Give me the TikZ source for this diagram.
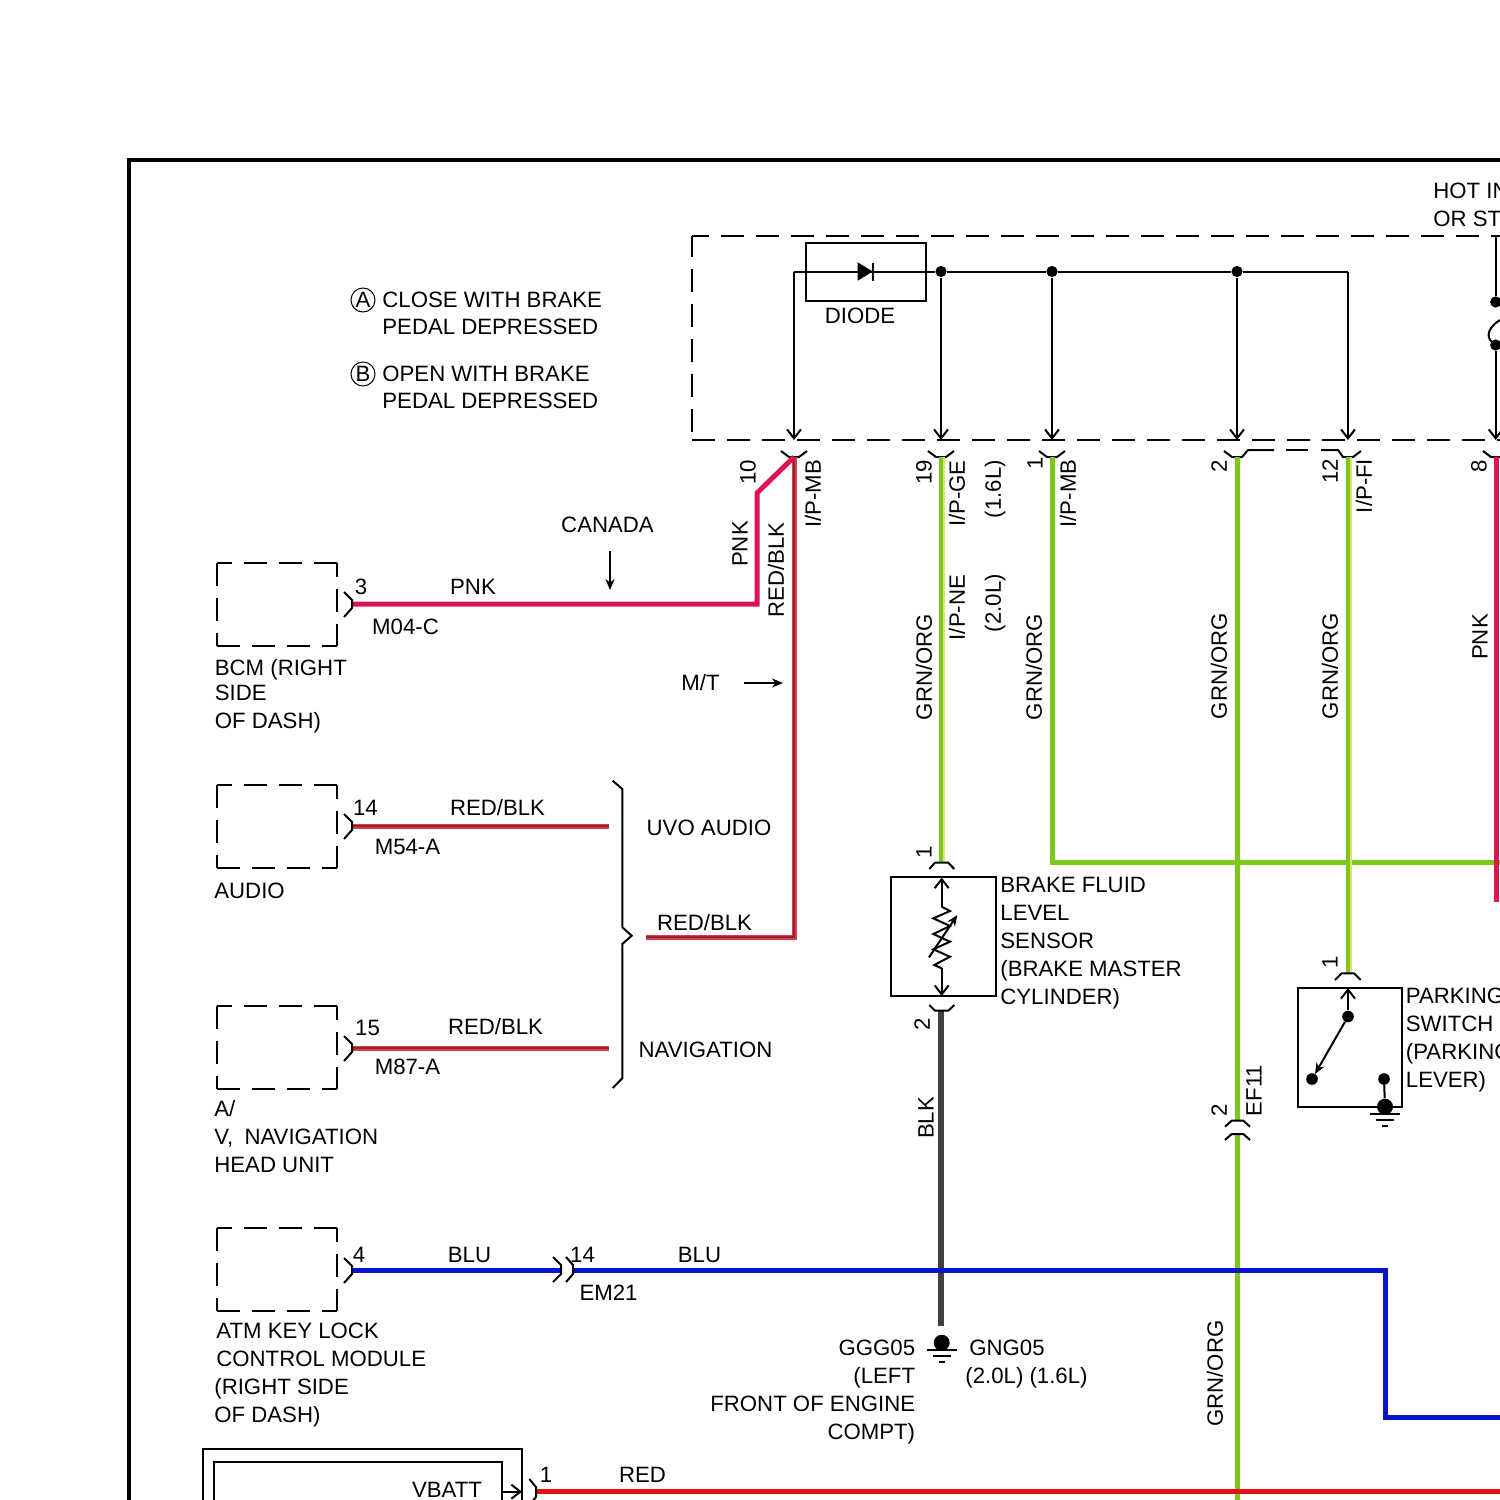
\documentclass[tikz,border=0pt]{standalone}
\usepackage{fontspec}
\setmainfont{Liberation Sans}
\usetikzlibrary{arrows.meta}
\definecolor{wirepnk}{HTML}{DC1450}
\definecolor{wirerbe}{HTML}{D0404A}
\definecolor{wirerb}{HTML}{A01E2A}
\definecolor{wiregrn}{HTML}{7CC81E}
\definecolor{wireorg}{HTML}{E6E070}
\definecolor{wireblk}{HTML}{404040}
\definecolor{wireblu}{HTML}{0A14C8}
\definecolor{wirered}{HTML}{E41212}
\tikzset{
lab/.style={font=\fontsize{11.1}{14}\selectfont,inner sep=0pt},
vlab/.style={lab,rotate=90},
blocklab/.style={lab,align=left,anchor=north west},
thinl/.style={line width=1pt},
pintip/.style={thinl,-{Straight Barb[length=4.5pt,width=7pt]}},
filltip/.style={thinl,-{Stealth[length=5.5pt,width=4.5pt]}},
dashbox/.style={thinl,dash pattern=on 11.5pt off 6pt},
modbox/.style={minimum width=60pt,minimum height=41.5pt,inner sep=0pt},
jdot/.style={circle,fill=black,inner sep=0pt,minimum size=5.6pt},
circled/.style={lab,circle,draw,line width=0.5pt,minimum size=12pt},
pnkw/.style={line width=2.5pt,wirepnk},
rbw/.style={draw=wirerbe,line width=0.7pt,double=wirerb,double distance=1.1pt},
grnw/.style={line width=2.5pt,wiregrn},
orgw/.style={line width=0.6pt,wireorg},
blkw/.style={line width=2.7pt,wireblk},
bluw/.style={line width=2.5pt,wireblu},
redw/.style={line width=2.5pt,wirered}
}
\begin{document}
\begin{tikzpicture}[x=0.5pt,y=-0.5pt,line join=miter]
\useasboundingbox (0,0) rectangle (1500,1500);
\clip (0,0) rectangle (1500,1500);
\draw[line width=2pt](129,1500)--(129,160)--(1500,160);
\draw[dashbox,dash phase=3pt](692,236)--(1500,236);
\draw[dashbox,dash phase=1pt](692,236)--(692,440);
\draw[dashbox](692,440)--(1500,440);
\node[circled](circA) at (363,300){A};
\node[circled](circB) at (363,374){B};
\node[blocklab](closeT) at (382,292){CLOSE WITH BRAKE\\[-0.5pt]PEDAL DEPRESSED};
\node[blocklab](openT) at (382,366){OPEN WITH BRAKE\\[-0.5pt]PEDAL DEPRESSED};
\node[blocklab](hotT) at (1433,183){HOT IN\\OR ST};
\coordinate (tipMB) at (794,440);
\coordinate (tipGE) at (941,440);
\coordinate (tipMC) at (1052,440);
\coordinate (tipEF) at (1237,440);
\coordinate (tipFI) at (1348,440);
\coordinate (tipP) at (1495.7,440);
\coordinate (topMB) at (794,271.5);
\coordinate (topFI) at (1348,271.5);
\coordinate (topP) at (1495.7,236);
\node[jdot](dotGE) at (941,271.5){};
\node[jdot](dotMC) at (1052,271.5){};
\node[jdot](dotEF) at (1237,271.5){};
\node[jdot](dotPa) at (1495.7,302){};
\node[jdot](dotPb) at (1495.7,345){};
\node[draw,thinl,minimum width=60pt,minimum height=29pt,inner sep=0pt](diodeB) at (866,272){};
\node[lab](diodeT) at (860,315.5){DIODE};
\draw[thinl](topMB)--(dotGE)--(dotMC)--(dotEF)--(topFI);
\draw[fill](858,263)--(858,280)--(872,271.5)--cycle;
\draw[thinl](873.3,262.7)--(873.3,280.7);
\draw[pintip](topMB)--(tipMB);
\draw[pintip](dotGE)--(tipGE);
\draw[pintip](dotMC)--(tipMC);
\draw[pintip](dotEF)--(tipEF);
\draw[pintip](topFI)--(tipFI);
\draw[thinl](topP)--(dotPa);
\draw[pintip](dotPb)--(tipP);
\draw[thinl](1500,320)..controls (1490,326) and (1484,336) .. (1493,343);
\draw[thinl](781,451)--(789,457)--(799,457)--(807,451);
\draw[thinl](928,451)--(936,457)--(946,457)--(954,451);
\draw[thinl](1039,451)--(1047,457)--(1057,457)--(1065,451);
\draw[thinl](1224,451)--(1232,457)--(1242,457)--(1248,450)--(1274,450);
\draw[thinl](1286,450)--(1308,450);
\draw[thinl](1321,450)--(1338,450)--(1343,457)--(1353,457)--(1361,451);
\draw[thinl](1483,451)--(1491,457)--(1500,457);
\coordinate (bcmP) at (352,604);
\coordinate (bendA) at (757,604);
\coordinate (bendB) at (757,493);
\coordinate (pinMB) at (794,457);
\coordinate (bendC) at (794,937);
\coordinate (endRB) at (646,937);
\coordinate (audP) at (352,826);
\coordinate (audE) at (609,826);
\coordinate (navP) at (352,1048);
\coordinate (navE) at (609,1048);
\coordinate (pinGE) at (941,457);
\coordinate (pinBF) at (941,863);
\coordinate (pinMC) at (1052,457);
\coordinate (bendMC) at (1052,862);
\coordinate (rightG) at (1500,862);
\coordinate (pinEF) at (1237,457);
\coordinate (efA) at (1237,1121);
\coordinate (efB) at (1237,1134);
\coordinate (botEF) at (1237,1500);
\coordinate (pinFI) at (1348,457);
\coordinate (pinPS) at (1348,973);
\coordinate (pinP) at (1496,457);
\coordinate (endP) at (1496,902);
\coordinate (pinBL) at (941,1011);
\coordinate (endBL) at (941,1326);
\coordinate (atmP) at (352,1270);
\coordinate (emA) at (561,1270);
\coordinate (emB) at (573,1270);
\coordinate (bendU) at (1385,1270);
\coordinate (bendV) at (1385,1417);
\coordinate (rightU) at (1500,1417);
\coordinate (batP) at (536,1491);
\coordinate (rightR) at (1500,1491);
\draw[grnw](pinGE)--(pinBF);
\draw[orgw]([xshift=1.5pt]pinGE)--([xshift=1.5pt]pinBF);
\draw[grnw](pinMC)--(bendMC)--(rightG);
\draw[grnw](pinEF)--(efA);
\draw[grnw](efB)--(botEF);
\draw[grnw](pinFI)--(pinPS);
\draw[orgw]([xshift=1.5pt]pinFI)--([xshift=1.5pt]pinPS);
\draw[pnkw](pinP)--(endP);
\draw[rbw](pinMB)--(bendC)--(endRB);
\draw[pnkw](bcmP)--(bendA)--(bendB)--(pinMB);
\draw[rbw](audP)--(audE);
\draw[rbw](navP)--(navE);
\draw[blkw](pinBL)--(endBL);
\draw[bluw](atmP)--(emA);
\draw[bluw](emB)--(bendU)--(bendV)--(rightU);
\draw[redw](batP)--(rightR);
\node[modbox](bcmB) at (277,604.5){};
\node[modbox](audB) at (277,826.5){};
\node[modbox](navB) at (277,1047.5){};
\node[modbox](atmB) at (277,1269.5){};
\draw[dashbox,dash phase=4pt](bcmB.north west)--(bcmB.north east);
\draw[dashbox,dash phase=4.5pt](bcmB.north east)--(bcmB.south east);
\draw[dashbox](bcmB.north west)--(bcmB.south west);
\draw[dashbox](bcmB.south west)--(bcmB.south east);
\draw[dashbox,dash phase=4pt](audB.north west)--(audB.north east);
\draw[dashbox,dash phase=4.5pt](audB.north east)--(audB.south east);
\draw[dashbox](audB.north west)--(audB.south west);
\draw[dashbox](audB.south west)--(audB.south east);
\draw[dashbox,dash phase=4pt](navB.north west)--(navB.north east);
\draw[dashbox,dash phase=4.5pt](navB.north east)--(navB.south east);
\draw[dashbox](navB.north west)--(navB.south west);
\draw[dashbox](navB.south west)--(navB.south east);
\draw[dashbox,dash phase=4pt](atmB.north west)--(atmB.north east);
\draw[dashbox,dash phase=4.5pt](atmB.north east)--(atmB.south east);
\draw[dashbox](atmB.north west)--(atmB.south west);
\draw[dashbox](atmB.south west)--(atmB.south east);
\draw[thinl](344,592)--(352,600)--(352,608)--(344,617);
\draw[thinl](344,814)--(352,822)--(352,830)--(344,839);
\draw[thinl](344,1036)--(352,1044)--(352,1052)--(344,1061);
\draw[thinl](344,1258)--(352,1266)--(352,1274)--(344,1283);
\draw[thinl](553,1257)--(561,1265)--(561,1274)--(553,1282);
\draw[thinl](566,1257)--(573,1265)--(573,1274)--(566,1282);
\draw[thinl](612.7,780.7)--(622.3,789)--(622.3,927.3)--(631.7,935.7)--(622.3,944)--(622.3,1078.3)--(612.7,1088);
\coordinate (canA) at (610,551);
\coordinate (canB) at (610,590);
\coordinate (mtA) at (744,683);
\coordinate (mtB) at (783,683);
\draw[filltip](canA)--(canB);
\draw[filltip](mtA)--(mtB);
\node[lab](canadaT) at (607.5,525){CANADA};
\node[lab](mtT) at (700.5,682.5){M/T};
\node[lab](pin3) at (361,587){3};
\node[lab](pnkT) at (473,587){PNK};
\node[lab](m04T) at (405.5,626.5){M04-C};
\node[blocklab](bcmT) at (214.5,659){BCM (RIGHT\\[-1.5pt]SIDE\\OF DASH)};
\node[lab](pin14a) at (365.5,807.5){14};
\node[lab](rbA) at (497.5,807.5){RED/BLK};
\node[lab](m54T) at (407.5,846.5){M54-A};
\node[blocklab](audT) at (214,883){AUDIO};
\node[lab](uvoT) at (709,827.5){UVO AUDIO};
\node[lab](rbB) at (704.5,922.5){RED/BLK};
\node[lab](pin15) at (367.5,1027.5){15};
\node[lab](rbC) at (495.5,1026.5){RED/BLK};
\node[lab](m87T) at (407.5,1066.5){M87-A};
\node[lab](naviT) at (705.5,1049.5){NAVIGATION};
\node[blocklab](navT) at (214,1100){A/\\V,\hspace{2.5pt} NAVIGATION\\HEAD UNIT};
\node[lab](pin4) at (359,1254.5){4};
\node[lab](bluA) at (469.5,1254.5){BLU};
\node[lab](pin14b) at (582.5,1254.5){14};
\node[lab](bluB) at (699.5,1254.5){BLU};
\node[lab](em21T) at (608.5,1292.5){EM21};
\node[blocklab](atmT) at (216,1323){ATM KEY LOCK\\CONTROL MODULE\\\hspace*{-1pt}(RIGHT SIDE\\\hspace*{-1pt}OF DASH)};
\draw[thinl](203,1500)--(203,1448.5)--(522,1448.5)--(522,1500);
\draw[thinl](213.5,1500)--(213.5,1462)--(502,1462)--(502,1500);
\coordinate (vbA) at (502,1491.7);
\coordinate (vbB) at (522,1491.7);
\draw[pintip](vbA)--(vbB);
\draw[thinl](529.3,1479)--(536,1487)--(536,1497)--(529.3,1505);
\node[lab](vbattT) at (447,1489.5){VBATT};
\node[lab](pin1v) at (546,1474.5){1};
\node[lab](redT) at (642.5,1474.5){RED};
\node[vlab](pin10) at (748,472){10};
\node[vlab](pnkV) at (740,544){PNK};
\node[vlab](rbV) at (776,570){RED/BLK};
\node[vlab](mbA) at (813,494){I/P-MB};
\node[vlab](pin19) at (924,472){19};
\node[vlab](geT) at (957,493.5){I/P-GE};
\node[vlab](l16a) at (995,489){(1.6L)};
\node[vlab](neT) at (957,607.5){I/P-NE};
\node[vlab](l20a) at (995,603){(2.0L)};
\node[vlab](goA) at (924,667){GRN/ORG};
\node[vlab](pin1m) at (1035,463){1};
\node[vlab](mbB) at (1068,493.5){I/P-MB};
\node[vlab](goB) at (1034,667){GRN/ORG};
\node[vlab](pin2e) at (1219,466){2};
\node[vlab](goC) at (1219,666){GRN/ORG};
\node[vlab](pin12) at (1330,471){12};
\node[vlab](fiT) at (1364,486){I/P-FI};
\node[vlab](goD) at (1330,666){GRN/ORG};
\node[vlab](pin8) at (1479,466){8};
\node[vlab](pnkR) at (1480,637){PNK};
\node[vlab](pin1b) at (924,852){1};
\node[vlab](pin2b) at (922,1024){2};
\node[vlab](blkT) at (926,1118){BLK};
\node[vlab](pin1s) at (1330,962){1};
\node[vlab](pin2f) at (1219,1110){2};
\node[vlab](ef11T) at (1254,1090.5){EF11};
\node[vlab](goE) at (1215,1373.5){GRN/ORG};
\node[draw,thinl,minimum width=52.5pt,minimum height=59.5pt,inner sep=0pt](sensorB) at (943.5,936.5){};
\coordinate (senA) at (941.7,906.7);
\coordinate (senB) at (941.7,968.3);
\coordinate (senT) at (941.7,877.5);
\coordinate (senU) at (941.7,996);
\draw[pintip](senA)--(senT);
\draw[pintip](senB)--(senU);
\draw[thinl](senA)--(950,911)--(933.3,918.3)--(950,926)--(933.3,934)--(950,941.7)--(933.3,949.3)--(950,956.7)--(934.3,965)--(senB);
\draw[filltip](929,957.3)--(957.3,915);
\draw[thinl](929.3,869)--(935,862.7)--(948.3,862.7)--(954.3,869);
\draw[thinl](929.3,1005)--(935,1010.7)--(948.3,1010.7)--(954.3,1005);
\node[blocklab](sensorT) at (1000,876.5){BRAKE FLUID\\LEVEL\\SENSOR\\(BRAKE MASTER\\CYLINDER)};
\node[draw,thinl,minimum width=52pt,minimum height=59.5pt,inner sep=0pt](parkB) at (1349.7,1047.2){};
\node[jdot,minimum size=5.8pt](dotSa) at (1348,1016.5){};
\node[jdot,minimum size=5.8pt](dotSb) at (1312,1079){};
\node[jdot,minimum size=5.8pt](dotSc) at (1384,1079){};
\node[jdot,minimum size=8pt](dotSd) at (1385,1106.7){};
\coordinate (parkT) at (1348,988);
\coordinate (bladeE) at (1315,1074);
\draw[pintip](dotSa)--(parkT);
\draw[filltip](dotSa)--(bladeE);
\draw[thinl](dotSc)--(dotSd);
\draw[thinl](1370,1114)--(1400,1114);
\draw[thinl](1375.7,1120)--(1394.3,1120);
\draw[thinl](1382.3,1126)--(1388.3,1126);
\draw[thinl](1335,980)--(1341.7,973.3)--(1354,973.3)--(1360.7,980);
\draw[thinl](1225,1126.7)--(1231.7,1120.7)--(1243.3,1120.7)--(1250,1126.7);
\draw[thinl](1225,1140)--(1231.7,1134)--(1243.3,1134)--(1250,1140);
\node[blocklab](parkT2) at (1405.5,988){PARKING\\SWITCH\\(PARKING\\LEVER)};
\node[jdot,minimum size=8pt](dotG) at (941.7,1342.7){};
\draw[thinl](926.7,1350)--(956.7,1350);
\draw[thinl](932.7,1356)--(950.7,1356);
\draw[thinl](938.7,1362)--(945,1362);
\node[lab,align=right,anchor=north east](gggT) at (915.5,1340){GGG05\\(LEFT\\FRONT OF ENGINE\\COMPT)};
\node[blocklab](gngT) at (969,1340){GNG05};
\node[blocklab](litT) at (965,1367){(2.0L) (1.6L)};
\end{tikzpicture}
\end{document}
